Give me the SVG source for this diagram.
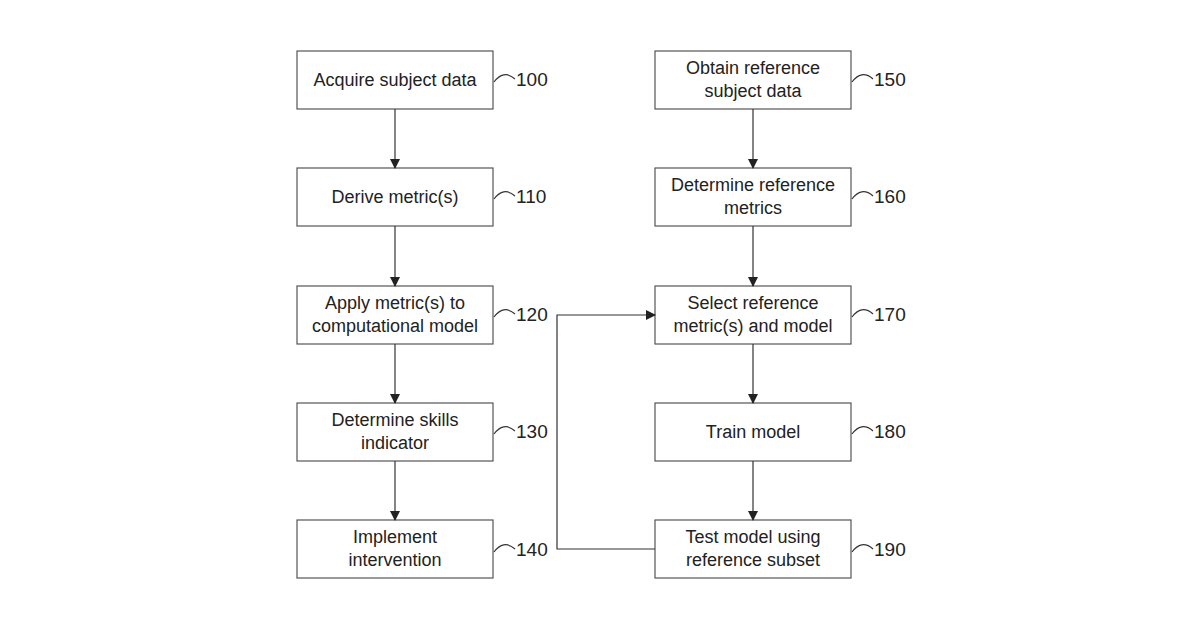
<svg xmlns="http://www.w3.org/2000/svg" width="1200" height="630" viewBox="0 0 1200 630">
<defs>
<marker id="ah" markerWidth="10" markerHeight="10" refX="9" refY="5" orient="auto" markerUnits="userSpaceOnUse"><path d="M0,0 L10,5 L0,10 Z" fill="#222"/></marker>
<style>
.b{fill:#fff;stroke:#555;stroke-width:1.2}
.t{font-family:"Liberation Sans",Arial,sans-serif;font-size:18px;fill:#222;text-anchor:middle}
.n{font-family:"Liberation Sans",Arial,sans-serif;font-size:19px;fill:#222}
.s{fill:none;stroke:#333;stroke-width:1.2}
.c{fill:none;stroke:#333;stroke-width:1.2;marker-end:url(#ah)}
</style>
</defs>
<rect width="1200" height="630" fill="#fff"/>
<g id="n100"><rect class="b" x="297" y="51" width="196" height="58"/><text class="t" x="395" y="86">Acquire subject data</text><path class="s" d="M494,82 C500,74 507,72 515,79"/><text class="n" x="516" y="86">100</text></g>
<g id="n110"><rect class="b" x="297" y="168" width="196" height="58"/><text class="t" x="395" y="203">Derive metric(s)</text><path class="s" d="M494,199 C500,191 507,189 515,196"/><text class="n" x="516" y="203">110</text></g>
<g id="n120"><rect class="b" x="297" y="286" width="196" height="58"/><text class="t" x="395" y="309">Apply metric(s) to</text><text class="t" x="395" y="332">computational model</text><path class="s" d="M494,317 C500,309 507,307 515,314"/><text class="n" x="516" y="321">120</text></g>
<g id="n130"><rect class="b" x="297" y="403" width="196" height="58"/><text class="t" x="395" y="426">Determine skills</text><text class="t" x="395" y="449">indicator</text><path class="s" d="M494,434 C500,426 507,424 515,431"/><text class="n" x="516" y="438">130</text></g>
<g id="n140"><rect class="b" x="297" y="520" width="196" height="58"/><text class="t" x="395" y="543">Implement</text><text class="t" x="395" y="566">intervention</text><path class="s" d="M494,552 C500,544 507,542 515,549"/><text class="n" x="516" y="556">140</text></g>
<g id="n150"><rect class="b" x="655" y="51" width="196" height="58"/><text class="t" x="753" y="74">Obtain reference</text><text class="t" x="753" y="97">subject data</text><path class="s" d="M852,82 C858,74 865,72 873,79"/><text class="n" x="874" y="86">150</text></g>
<g id="n160"><rect class="b" x="655" y="168" width="196" height="58"/><text class="t" x="753" y="191">Determine reference</text><text class="t" x="753" y="214">metrics</text><path class="s" d="M852,199 C858,191 865,189 873,196"/><text class="n" x="874" y="203">160</text></g>
<g id="n170"><rect class="b" x="655" y="286" width="196" height="58"/><text class="t" x="753" y="309">Select reference</text><text class="t" x="753" y="332">metric(s) and model</text><path class="s" d="M852,317 C858,309 865,307 873,314"/><text class="n" x="874" y="321">170</text></g>
<g id="n180"><rect class="b" x="655" y="403" width="196" height="58"/><text class="t" x="753" y="438">Train model</text><path class="s" d="M852,434 C858,426 865,424 873,431"/><text class="n" x="874" y="438">180</text></g>
<g id="n190"><rect class="b" x="655" y="520" width="196" height="58"/><text class="t" x="753" y="543">Test model using</text><text class="t" x="753" y="566">reference subset</text><path class="s" d="M852,552 C858,544 865,542 873,549"/><text class="n" x="874" y="556">190</text></g>
<g id="connectors">
<path class="c" d="M395,109 V168"/><path class="c" d="M395,226 V286"/><path class="c" d="M395,344 V403"/><path class="c" d="M395,461 V520"/>
<path class="c" d="M753,109 V168"/><path class="c" d="M753,226 V286"/><path class="c" d="M753,344 V403"/><path class="c" d="M753,461 V520"/>
<path class="c" d="M655,549 H557 V315 H655"/>
</g>
</svg>
